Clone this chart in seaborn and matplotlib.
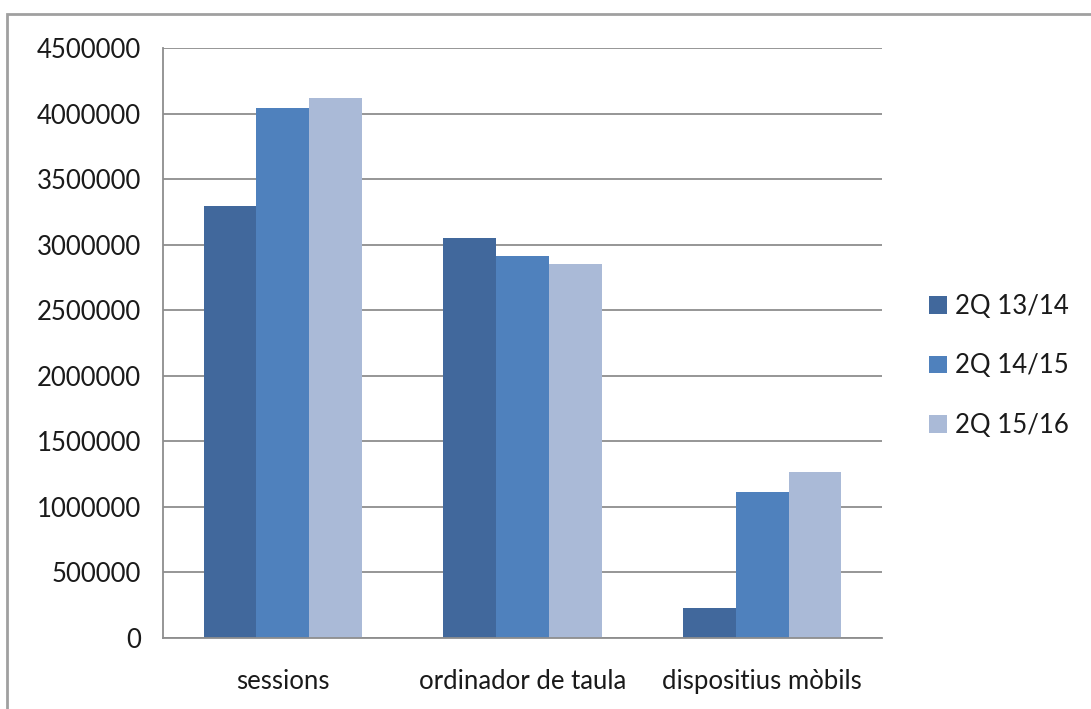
import matplotlib.pyplot as plt
import matplotlib.patches as mpatches
import pandas as pd
import seaborn as sns

# Dades llegides del gràfic
categories = ['sessions', 'ordinador de taula', 'dispositius mòbils']
periodes = ['2Q 13/14', '2Q 14/15', '2Q 15/16']
valors_13_14 = [3295000, 3050000, 228000]
valors_14_15 = [4040000, 2915000, 1110000]
valors_15_16 = [4122000, 2852000, 1268000]
y_ticks = [0, 500000, 1000000, 1500000, 2000000, 2500000, 3000000, 3500000, 4000000, 4500000]

colors = ['#41689C', '#4F81BD', '#AABAD7']

df = pd.DataFrame({
    'categoria': categories * 3,
    'periode': [periodes[0]] * 3 + [periodes[1]] * 3 + [periodes[2]] * 3,
    'valor': valors_13_14 + valors_14_15 + valors_15_16,
})

sns.set_theme(style='white')
plt.rcParams['font.family'] = ['Lato', 'DejaVu Sans']

fig = plt.figure(figsize=(10.91, 7.09), dpi=100)
ax = fig.add_axes([163 / 1091, 71 / 709, 719 / 1091, 590 / 709])

sns.barplot(data=df, x='categoria', y='valor', hue='periode', order=categories,
            hue_order=periodes, palette=colors, width=0.66, saturation=1,
            errorbar=None, ax=ax, legend=False, linewidth=0, edgecolor='none')

ax.set_ylim(0, 4500000)
ax.set_xlim(-0.5, 2.5)
ax.set_yticks(y_ticks)
ax.set_yticklabels([str(v) for v in y_ticks])
ax.yaxis.grid(True, color='#8E8E8E', linewidth=1.3)
ax.set_axisbelow(True)
ax.set_xlabel('')
ax.set_ylabel('')

for side in ['top', 'right']:
    ax.spines[side].set_visible(False)
for side in ['left', 'bottom']:
    ax.spines[side].set_color('#8E8E8E')
    ax.spines[side].set_linewidth(1.3)

ax.tick_params(axis='y', length=0, pad=16, labelsize=18.5, labelcolor='#1A1A1A')
ax.tick_params(axis='x', length=0, pad=22, labelsize=18.5, labelcolor='#1A1A1A')

handles = [mpatches.Patch(facecolor=c, edgecolor='none', label=p) for c, p in zip(colors, periodes)]
fig.legend(handles=handles, loc='center left', bbox_to_anchor=(929 / 1091, 1 - 366 / 709),
           frameon=False, fontsize=18.5, handlelength=0.7, handleheight=0.7,
           handletextpad=0.3, labelspacing=1.34, labelcolor='#1A1A1A',
           borderpad=0, borderaxespad=0)

# marc del gràfic
fig.patches.append(mpatches.Rectangle((7 / 1091, -0.05), 1.1, 1 - 14 / 709 + 0.05,
                                      transform=fig.transFigure, fill=False,
                                      edgecolor='#A0A0A0', linewidth=2))

fig.savefig('out.png', dpi=100)
